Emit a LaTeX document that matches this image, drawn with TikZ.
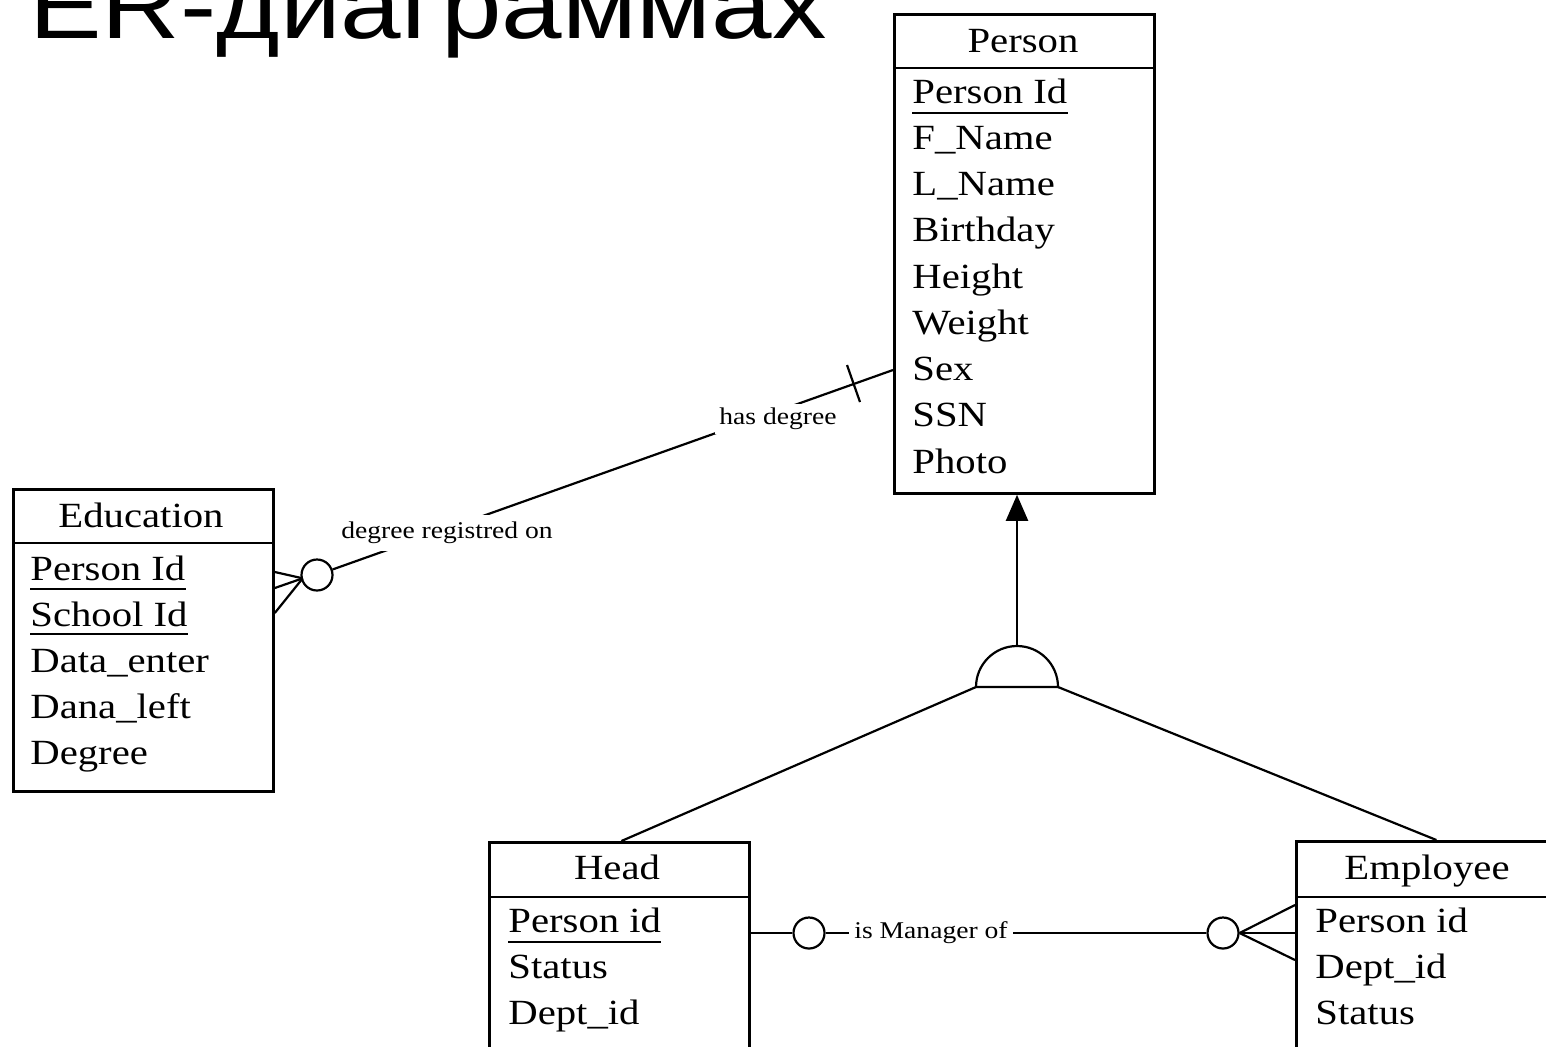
\documentclass[tikz,border=0pt]{standalone}
\usepackage{fontspec}
\setmainfont{Liberation Serif}[FakeStretch=1.15]
\newfontfamily\titlefont{Liberation Sans}[FakeStretch=1.15]
\usetikzlibrary{calc,arrows.meta}
\begin{document}
\begin{tikzpicture}[x=0.5pt,y=-0.5pt,
  box/.style={draw, line width=1.4pt, inner sep=0pt, anchor=north west, minimum width=130pt},
  attr/.style={inner sep=0pt, anchor=base west, font=\fontsize{17.7pt}{22pt}\selectfont},
  hdr/.style={inner sep=0pt, anchor=base, font=\fontsize{17.7pt}{22pt}\selectfont},
  sepline/.style={line width=1.4pt},
  conn/.style={line width=1.1pt},
  lbl/.style={fill=white, inner xsep=2pt, inner ysep=2pt, font=\fontsize{12pt}{14pt}\selectfont},
  oc/.style={circle, draw, line width=1.1pt, minimum size=15.5pt, inner sep=0pt, fill=white},
  uline/.style={line width=0.9pt}]
\fill[white] (0,0) rectangle (1546,1046);
\useasboundingbox (0,0) rectangle (1546,1046);

% title (cut by the page top, as in the reference)
\node[anchor=base west, inner sep=0pt, font=\titlefont\fontsize{47.3pt}{50pt}\selectfont] (title) at (29,38) {ER-диаграммах};

% ---------- Person ----------
\node[box, minimum height=239.5pt] (person) at (893,13) {};
\draw[sepline] (person.west |- 0,68) -- (person.east |- 0,68);
\node[hdr] (personh) at (1023,52) {Person};
\node[attr] (p1) at (912,103) {Person Id};
\draw[uline] ($(p1.base west)+(0,10)$) -- ($(p1.base east)+(0,10)$);
\foreach \t [count=\i] in {F\_Name, L\_Name, Birthday, Height, Weight, Sex, SSN, Photo}
  \node[attr] (p\i x) at (912,{103+46.25*\i}) {\t};

% ---------- Education ----------
\node[box, minimum height=151pt] (edu) at (12,488) {};
\draw[sepline] (edu.west |- 0,543) -- (edu.east |- 0,543);
\node[hdr] (eduh) at (141,527) {Education};
\node[attr] (e1) at (30,580) {Person Id};
\draw[uline] ($(e1.base west)+(0,9)$) -- ($(e1.base east)+(0,9)$);
\node[attr] (e2) at (30,626) {School Id};
\draw[uline] ($(e2.base west)+(0,8)$) -- ($(e2.base east)+(0,8)$);
\node[attr] (e3) at (30,672) {Data\_enter};
\node[attr] (e4) at (30,718) {Dana\_left};
\node[attr] (e5) at (30,764) {Degree};

% ---------- Head ----------
\node[box, minimum height=120pt] (head) at (488,841) {};
\draw[sepline] (head.west |- 0,897) -- (head.east |- 0,897);
\node[hdr] (headh) at (617,879) {Head};
\node[attr] (h1) at (508,932) {Person id};
\draw[uline] ($(h1.base west)+(0,10)$) -- ($(h1.base east)+(0,10)$);
\node[attr] (h2) at (508,978) {Status};
\node[attr] (h3) at (508,1024) {Dept\_id};

% ---------- Employee ----------
\node[box, minimum height=120pt] (emp) at (1295,840) {};
\draw[sepline] (emp.west |- 0,897) -- (emp.east |- 0,897);
\node[hdr] (emph) at (1427,879) {Employee};
\node[attr] (m1) at (1315,932) {Person id};
\node[attr] (m2) at (1315,978) {Dept\_id};
\node[attr] (m3) at (1315,1024) {Status};

% ---------- has degree / degree registred on ----------
\coordinate (pd) at ($(person.north west)+(0,357)$);
\node[oc] (ce) at (317,575) {};
\draw[conn] (pd) -- (ce);
\draw[conn] (847,365) -- (860,402);
\node[lbl] (hd) at (778,419) {has degree};
\node[lbl, inner ysep=3.5pt] (dr) at (447,533) {degree registred on};
\draw[conn] ($(ce.center)+(-14.3,3.3)$) -- ($(edu.north east)+(0,84)$);
\draw[conn] ($(ce.center)+(-14.3,3.3)$) -- ($(edu.north east)+(0,100)$);
\draw[conn] ($(ce.center)+(-14.3,3.3)$) -- ($(edu.north east)+(0,125)$);

% ---------- generalisation ----------
\coordinate (isal) at (976,687);
\coordinate (isar) at (1058,687);
\coordinate (isatop) at (1017,646);
\draw[conn] (isal) arc[start angle=180, end angle=0, radius=20.5pt] -- cycle;
\draw[conn, -{Triangle[length=13pt,width=11pt]}] (isatop) -- (isatop |- person.south);
\draw[conn] (isal) -- ($(head.north)+(2,0)$);
\draw[conn] (isar) -- ($(emp.north)+(10,0)$);

% ---------- is Manager of ----------
\coordinate (hm) at ($(head.north east)+(0,92)$);
\node[oc] (c1) at (809,933) {};
\node[oc] (c2) at (1223,933) {};
\draw[conn] (hm) -- (c1);
\draw[conn] (c1) -- (c2);
\node[lbl, inner xsep=2.5pt] (im) at (931,933) {is Manager of};
\draw[conn] (c2.east) -- ($(emp.north west)+(0,65)$);
\draw[conn] (c2.east) -- ($(emp.north west)+(0,93)$);
\draw[conn] (c2.east) -- ($(emp.north west)+(0,120)$);
\end{tikzpicture}
\end{document}
